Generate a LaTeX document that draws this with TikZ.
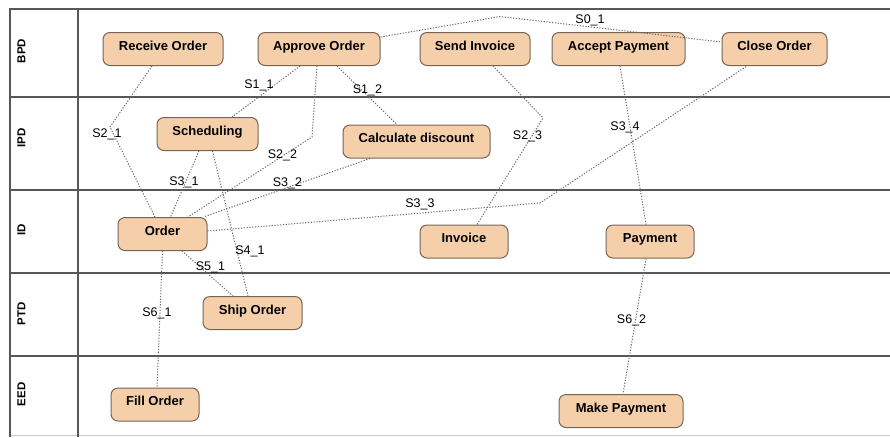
\documentclass[tikz,border=0pt]{standalone}
\usepackage{fontspec}
\setmainfont{Liberation Sans}
\definecolor{lanegray}{RGB}{88,88,88}
\definecolor{taskfill}{RGB}{245,207,170}
\definecolor{taskline}{RGB}{118,100,86}
\definecolor{linkgray}{RGB}{105,105,105}
\definecolor{basegray}{RGB}{200,200,200}
\begin{document}
\begin{tikzpicture}[x=1pt,y=-1pt,
  laneline/.style={draw=lanegray,line width=2.2pt},
  lanelabel/.style={font=\fontsize{11.5}{11.5}\selectfont\bfseries,rotate=90,inner sep=0pt},
  task/.style={draw=taskline,fill=taskfill,line width=1pt,rounded corners=7pt,
    minimum height=33pt,inner sep=0pt,text height=12pt,text depth=10pt,
    font=\fontsize{13}{13}\selectfont\bfseries},
  link/.style={draw=linkgray,line width=1pt,dash pattern=on 1.2pt off 1.6pt},
  linklabel/.style={font=\fontsize{12.5}{12.5}\selectfont,inner sep=0pt,anchor=base}]
\useasboundingbox (0,0) rectangle (890,437);

% swimlane frame
\draw[draw=basegray,line width=1pt] (10,435.5) -- (890,435.5);
\draw[laneline] (10,9) -- (890,9);
\foreach \y in {97,190,273,356} \draw[laneline] (10,\y) -- (890,\y);
\draw[laneline] (10,8) -- (10,437);
\draw[laneline] (78,8) -- (78,437);

% lane titles
\node[lanelabel] (lbpd) at (21.5,51) {BPD};
\node[lanelabel] (lipd) at (21.5,138) {IPD};
\node[lanelabel] (lid)  at (21.5,230) {ID};
\node[lanelabel] (lptd) at (21.5,313.5) {PTD};
\node[lanelabel] (leed) at (21.5,394.5) {EED};

% tasks
\node[task,minimum width=120pt] (ro) at (163,49)    {Receive Order};
\node[task,minimum width=122pt] (ao) at (319,49)    {Approve Order};
\node[task,minimum width=110pt] (si) at (475,49)    {Send Invoice};
\node[task,minimum width=133pt] (ap) at (618.5,49)  {Accept Payment};
\node[task,minimum width=105pt] (co) at (774.5,49)  {Close Order};
\node[task,minimum width=101pt] (sc) at (207.5,134) {Scheduling};
\node[task,minimum width=147pt] (cd) at (416.5,141.5) {Calculate discount};
\node[task,minimum width=89pt]  (or) at (162.5,234) {Order};
\node[task,minimum width=88pt]  (in) at (464,241.5) {Invoice};
\node[task,minimum width=88pt]  (pa) at (650,241.5) {Payment};
\node[task,minimum width=99pt]  (so) at (252.5,313) {Ship Order};
\node[task,minimum width=88pt]  (fo) at (155,404.5) {Fill Order};
\node[task,minimum width=124pt] (mp) at (621,411)   {Make Payment};

% bend points of the links
\coordinate (b01) at (500,16.5);
\coordinate (b21) at (110,127);
\coordinate (b22) at (312,137);
\coordinate (b23) at (543,118);
\coordinate (b33) at (540,203);

% links
\draw[link] ([yshift=12pt]ao.east) -- (b01) -- ([yshift=7pt]co.west);
\draw[link] ([xshift=-19pt]ao.south) -- ([xshift=24.5pt]sc.north);
\draw[link] ([xshift=18pt]ao.south) -- ([xshift=-19.5pt]cd.north);
\draw[link] ([xshift=-11pt]ro.south) -- (b21) -- ([xshift=-7.5pt]or.north);
\draw[link] ([xshift=-2pt]ao.south) -- (b22) -- ([xshift=25.5pt]or.north);
\draw[link] ([xshift=18pt]si.south) -- (b23) -- ([xshift=13pt]in.north);
\draw[link] ([xshift=-8.5pt]sc.south) -- ([xshift=8pt]or.north);
\draw[link] ([xshift=-46.5pt]cd.south) -- ([xshift=-4pt]or.north east);
\draw[link] ([yshift=3pt]or.east) -- (b33) -- ([xshift=-27.5pt]co.south);
\draw[link] ([xshift=1.5pt]ap.south) -- ([xshift=-4pt]pa.north);
\draw[link] ([xshift=5pt]sc.south) -- ([xshift=-4.5pt]so.north);
\draw[link] ([xshift=19.5pt]or.south) -- ([xshift=-19.5pt]so.north);
\draw[link] (or.south) -- ([xshift=2pt]fo.north);
\draw[link] ([xshift=-4pt]pa.south) -- ([xshift=2pt]mp.north);

% link labels
\node[linklabel] (t01) at (590,23)    {S0\_1};
\node[linklabel] (t11) at (259,88)    {S1\_1};
\node[linklabel] (t12) at (367.5,93)  {S1\_2};
\node[linklabel] (t21) at (107,137)   {S2\_1};
\node[linklabel] (t22) at (282.5,158) {S2\_2};
\node[linklabel] (t23) at (527.5,139) {S2\_3};
\node[linklabel] (t31) at (184,185)   {S3\_1};
\node[linklabel] (t32) at (287.5,186) {S3\_2};
\node[linklabel] (t33) at (420,207)   {S3\_3};
\node[linklabel] (t34) at (625,130.5) {S3\_4};
\node[linklabel] (t41) at (250,254)   {S4\_1};
\node[linklabel] (t51) at (210.5,270) {S5\_1};
\node[linklabel] (t61) at (157,316.5) {S6\_1};
\node[linklabel] (t62) at (631.5,323) {S6\_2};
\end{tikzpicture}
\end{document}
